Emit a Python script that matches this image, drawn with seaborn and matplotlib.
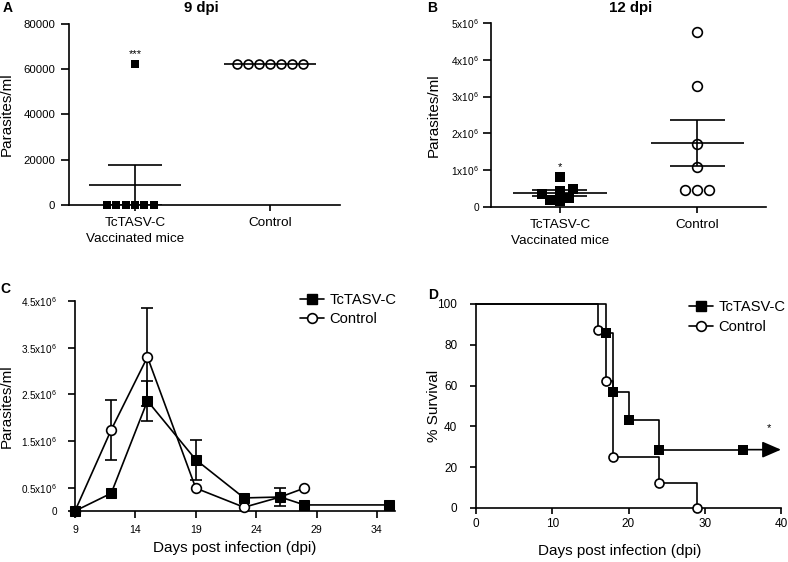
import numpy as np
import pandas as pd
import matplotlib
matplotlib.use("Agg")
import matplotlib.pyplot as plt
from matplotlib.lines import Line2D
import seaborn as sns

# ---------------- data ----------------
cat_labels = ["TcTASV-C\nVaccinated mice", "Control"]

# Panel A (9 dpi)
a_vacc = [0, 0, 0, 0, 0, 0, 62500]
a_ctrl = [62500] * 7
a_yticks = [0, 20000, 40000, 60000, 80000]

# Panel B (12 dpi)
b_vacc = [0.436e6, 0.255e6, 0.50e6, 0.818e6, 0.155e6, 0.20e6, 0.364e6]
b_ctrl = [4.75e6, 3.30e6, 1.70e6, 1.10e6, 0.45e6, 0.45e6, 0.45e6]
b_yticks = [0, 1e6, 2e6, 3e6, 4e6, 5e6]
b_yticklabels = ["0", "1x10$^{6}$", "2x10$^{6}$", "3x10$^{6}$", "4x10$^{6}$", "5x10$^{6}$"]

# Panel C (time course)
c_days_t = [9, 12, 15, 19, 23, 26, 28, 35]
c_mean_t = [0.0, 0.38e6, 2.36e6, 1.10e6, 0.28e6, 0.30e6, 0.13e6, 0.13e6]
c_sem_t = [0, 0, 0.43e6, 0.43e6, 0, 0.20e6, 0, 0]
c_days_c = [9, 12, 15, 19, 23, 26, 28]
c_mean_c = [0.0, 1.74e6, 3.30e6, 0.49e6, 0.08e6, 0.30e6, 0.49e6]
c_sem_c = [0, 0.64e6, 1.05e6, 0, 0, 0, 0]
c_xticks = [9, 14, 19, 24, 29, 34]
c_yticks = [0, 0.5e6, 1.5e6, 2.5e6, 3.5e6, 4.5e6]
c_yticklabels = ["0", "0.5x10$^{6}$", "1.5x10$^{6}$", "2.5x10$^{6}$", "3.5x10$^{6}$", "4.5x10$^{6}$"]

# Panel D (survival)
d_time_t = [0, 17, 18, 20, 24, 35]
d_surv_t = [100, 85.7, 57.1, 42.9, 28.6, 28.6]
d_time_c = [0, 16, 17, 18, 24, 29]
d_surv_c = [100, 87.5, 62.5, 25, 12.5, 0]
d_xticks = [0, 10, 20, 30, 40]
d_yticks = [0, 20, 40, 60, 80, 100]

# ---------------- style ----------------
sns.set_theme(style="ticks")
plt.rcParams["font.family"] = ["Liberation Sans", "DejaVu Sans"]
plt.rcParams["mathtext.default"] = "regular"
plt.rcParams["axes.linewidth"] = 1.2
plt.rcParams["xtick.major.width"] = 1.2
plt.rcParams["ytick.major.width"] = 1.2
plt.rcParams["xtick.color"] = "black"
plt.rcParams["ytick.color"] = "black"
plt.rcParams["axes.edgecolor"] = "black"
plt.rcParams["text.color"] = "black"
plt.rcParams["axes.labelcolor"] = "black"

fig = plt.figure(figsize=(7.88, 5.62), dpi=100)
W, H = 788, 562


def add_ax(l, t, r, b):
    return fig.add_axes([l / W, 1 - b / H, (r - l) / W, (b - t) / H])


axA = add_ax(69, 24, 340, 205)
axB = add_ax(491, 23, 766, 207)
axC = add_ax(75, 301, 395, 511)
axD = add_ax(476, 304, 781, 508)

for ax in (axA, axB, axC, axD):
    sns.despine(ax=ax)
    ax.tick_params(direction="out", color="black")

LW = 1.2


def scatter_panel(ax, vacc, ctrl, msize):
    dv = pd.DataFrame({"group": cat_labels[0], "val": vacc})
    dc = pd.DataFrame({"group": cat_labels[1], "val": ctrl})
    sns.swarmplot(data=dv, x="group", y="val", order=cat_labels, ax=ax,
                  marker="s", color="black", size=msize, linewidth=0,
                  clip_on=False, zorder=3)
    sns.swarmplot(data=dc, x="group", y="val", order=cat_labels, ax=ax,
                  marker="o", color="white", edgecolor="black",
                  size=msize, linewidth=1.2, clip_on=False, zorder=3)
    for i, vals in enumerate((vacc, ctrl)):
        v = np.asarray(vals, dtype=float)
        m = v.mean()
        s = v.std(ddof=1) / np.sqrt(len(v))
        ax.hlines(m, i - 0.34, i + 0.34, color="black", lw=LW, zorder=4)
        if s > 0:
            ax.vlines(i, m - s, m + s, color="black", lw=LW, zorder=4)
            ax.hlines([m - s, m + s], i - 0.2, i + 0.2, color="black", lw=LW, zorder=4)
    ax.set_xlabel("")
    ax.tick_params(axis="x", labelsize=9.7, pad=5, length=4)
    for lab in ax.get_xticklabels():
        lab.set_linespacing(1.35)


# ---------- Panel A ----------
scatter_panel(axA, a_vacc, a_ctrl, 6.4)
axA.set_xlim(-0.49, 1.52)
axA.set_ylim(0, 80000)
axA.set_yticks(a_yticks)
axA.set_yticklabels([str(v) for v in a_yticks])
axA.tick_params(axis="y", labelsize=8.2, length=6, pad=4)
axA.set_ylabel("Parasites/ml", fontsize=11)
axA.yaxis.set_label_coords(-0.203, 0.5)
axA.text(0, 66500, "***", ha="center", va="center", fontsize=8)
axA.text(0.49, 1.088, "9 dpi", transform=axA.transAxes, ha="center",
         va="center", fontsize=10.8, fontweight="bold")

# ---------- Panel B ----------
scatter_panel(axB, b_vacc, b_ctrl, 7)
axB.set_xlim(-0.50, 1.50)
axB.set_ylim(0, 5e6)
axB.set_yticks(b_yticks)
axB.set_yticklabels(b_yticklabels)
axB.tick_params(axis="y", labelsize=7.3, length=6, pad=2.5)
axB.set_ylabel("Parasites/ml", fontsize=11)
axB.yaxis.set_label_coords(-0.182, 0.5)
axB.text(0, 1.08e6, "*", ha="center", va="center", fontsize=8)
axB.text(0.509, 1.082, "12 dpi", transform=axB.transAxes, ha="center",
         va="center", fontsize=10.8, fontweight="bold")

# ---------- Panel C ----------
sns.lineplot(x=c_days_c, y=c_mean_c, ax=axC, color="black", lw=LW,
             marker="o", markersize=7, markerfacecolor="white",
             markeredgecolor="black", markeredgewidth=1.2, clip_on=False,
             zorder=3)
sns.lineplot(x=c_days_t, y=c_mean_t, ax=axC, color="black", lw=LW,
             marker="s", markersize=7, markerfacecolor="black",
             markeredgecolor="black", clip_on=False, zorder=4)
for days, means, sems in ((c_days_c, c_mean_c, c_sem_c), (c_days_t, c_mean_t, c_sem_t)):
    for d, m, s in zip(days, means, sems):
        if s > 0:
            axC.errorbar(d, m, yerr=s, fmt="none", ecolor="black",
                         elinewidth=LW, capsize=4.5, capthick=LW, zorder=2)
axC.set_xlim(9, 35.5)
axC.set_ylim(0, 4.5e6)
axC.set_xticks(c_xticks)
axC.set_yticks(c_yticks)
axC.set_yticklabels(c_yticklabels)
axC.tick_params(axis="y", labelsize=7.2, length=5, pad=8)
axC.tick_params(axis="x", labelsize=7.6, length=5, pad=5)
axC.set_ylabel("Parasites/ml", fontsize=11)
axC.yaxis.set_label_coords(-0.19, 0.5)
axC.set_xlabel("Days post infection (dpi)", fontsize=11)
axC.xaxis.set_label_coords(0.5, -0.145)

h_t = Line2D([], [], color="black", lw=LW, marker="s", markersize=7)
h_c = Line2D([], [], color="black", lw=LW, marker="o", markersize=7,
             markerfacecolor="white", markeredgewidth=1.2)
fig.legend([h_t, h_c], ["TcTASV-C", "Control"], loc="upper left",
           bbox_to_anchor=(300 / W, 1 - 293 / H), frameon=False,
           fontsize=10.6, handlelength=1.6, handletextpad=0.4,
           labelspacing=0.35, borderpad=0, borderaxespad=0)

# ---------- Panel D ----------
sns.lineplot(x=d_time_c, y=d_surv_c, ax=axD, color="black", lw=LW,
             drawstyle="steps-post", clip_on=False, zorder=2)
sns.lineplot(x=d_time_t, y=d_surv_t, ax=axD, color="black", lw=LW,
             drawstyle="steps-post", clip_on=False, zorder=2)
sns.scatterplot(x=d_time_c[1:], y=d_surv_c[1:], ax=axD, marker="o", s=42,
                color="white", edgecolor="black", linewidth=1.2,
                clip_on=False, zorder=3)
sns.scatterplot(x=d_time_t[1:], y=d_surv_t[1:], ax=axD, marker="s", s=49,
                color="black", edgecolor="black", linewidth=0,
                clip_on=False, zorder=4)
axD.annotate("", xy=(40, d_surv_t[-1]), xytext=(d_time_t[-1], d_surv_t[-1]),
             arrowprops=dict(arrowstyle="-|>,head_length=1.15,head_width=0.5",
                             mutation_scale=10, color="black", lw=LW,
                             shrinkA=0, shrinkB=0), annotation_clip=False)
axD.text(38.4, 39, "*", ha="center", va="center", fontsize=8)
axD.set_xlim(0, 40)
axD.set_ylim(0, 100)
axD.set_xticks(d_xticks)
axD.set_yticks(d_yticks)
axD.tick_params(axis="y", labelsize=8.5, length=4.5, pad=9)
axD.tick_params(axis="x", labelsize=8.5, length=4, pad=3)
axD.set_ylabel("% Survival", fontsize=11)
axD.yaxis.set_label_coords(-0.115, 0.5)
axD.set_xlabel("Days post infection (dpi)", fontsize=11)
axD.xaxis.set_label_coords(0.472, -0.176)
fig.legend([h_t, h_c], ["TcTASV-C", "Control"], loc="upper left",
           bbox_to_anchor=(689 / W, 1 - 300 / H), frameon=False,
           fontsize=10.6, handlelength=1.6, handletextpad=0.4,
           labelspacing=0.4, borderpad=0, borderaxespad=0)

# ---------- panel letters ----------
for letter, x, y in (("A", 8, 8), ("B", 432, 8), ("C", 5, 289), ("D", 433, 295)):
    fig.text(x / W, 1 - y / H, letter, ha="center", va="center",
             fontsize=10, fontweight="bold")

fig.savefig("out.png", dpi=100)
